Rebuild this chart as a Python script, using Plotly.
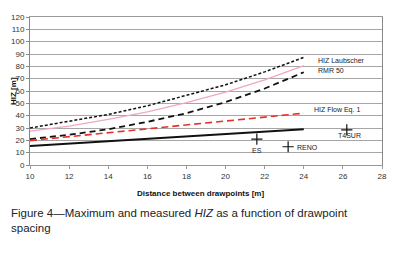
import plotly.graph_objects as go

spacing = [10, 12, 14, 16, 18, 20, 22, 24]
hiz_laubscher = [30, 35.5, 41, 48, 56.5, 65, 75.5, 87.3]
rmr50 = [27.5, 31.5, 37, 43, 50.5, 59, 69, 80.5]
rmr_lower = [21, 24.5, 29, 35, 42, 51, 62, 75.2]
hiz_flow = [19.8, 23, 26.3, 29.5, 32.8, 36, 39, 42]
hiz_measured_line = [15.5, 17.5, 19.5, 21.3, 23.2, 25.1, 27, 29]

meas_names = ["ES", "RENO", "T4SUR"]
meas_x = [21.6, 23.2, 26.2]
meas_y = [21, 14.8, 28.4]

x_ticks = [10, 12, 14, 16, 18, 20, 22, 24, 26, 28]
y_ticks = list(range(0, 121, 10))

fig = go.Figure()
fig.add_trace(go.Scatter(x=spacing, y=hiz_laubscher, mode="lines",
                         line=dict(color="#111111", width=1.5, dash="3px,2px")))
fig.add_trace(go.Scatter(x=spacing, y=rmr50, mode="lines",
                         line=dict(color="#f2a7c3", width=1.3)))
fig.add_trace(go.Scatter(x=spacing, y=rmr_lower, mode="lines",
                         line=dict(color="#111111", width=1.8, dash="6px,4px")))
fig.add_trace(go.Scatter(x=spacing, y=hiz_flow, mode="lines",
                         line=dict(color="#e8302a", width=1.6, dash="7px,4px")))
fig.add_trace(go.Scatter(x=spacing, y=hiz_measured_line, mode="lines",
                         line=dict(color="#111111", width=2)))
fig.add_trace(go.Scatter(x=meas_x, y=meas_y, mode="markers",
                         marker=dict(symbol="cross-thin", size=8,
                                     line=dict(color="#111111", width=1.2))))

FAM = "Liberation Sans, Arial, sans-serif"
font_small = dict(family=FAM, size=7, color="#222222")
ann = [
    dict(x=24.6, y=84.6, text="HIZ Laubscher", xanchor="left", yanchor="middle", showarrow=False, font=font_small),
    dict(x=24.6, y=77, text="RMR 50", xanchor="left", yanchor="middle", showarrow=False, font=font_small),
    dict(x=24.42, y=44.6, text="HIZ Flow Eq. 1", xanchor="left", yanchor="middle", showarrow=False, font=font_small),
    dict(x=meas_x[0], y=meas_y[0] - 9.5, text=meas_names[0], xanchor="center", yanchor="middle", showarrow=False, font=font_small),
    dict(x=meas_x[1] + 0.35, y=meas_y[1] - 0.3, text=meas_names[1], xanchor="left", yanchor="middle", showarrow=False, font=font_small),
    dict(x=meas_x[2] + 0.15, y=meas_y[2] - 4.5, text=meas_names[2], xanchor="center", yanchor="middle", showarrow=False, font=font_small),
    dict(x=0.5, y=0, xref="paper", yref="paper", yshift=-28, xshift=-6,
         text="<b>Distance between drawpoints [m]</b>",
         showarrow=False, xanchor="center", yanchor="middle",
         font=dict(family=FAM, size=8, color="#111111")),
    dict(x=0, y=0.5, xref="paper", yref="paper", xshift=-17,
         text="<b>HIZ [m]</b>", textangle=-90,
         showarrow=False, xanchor="center", yanchor="middle",
         font=dict(family=FAM, size=8, color="#111111")),
    dict(x=0, y=0, xref="paper", yref="paper", xshift=-21, yshift=-40,
         text="Figure 4\u2014Maximum and measured <i>HIZ</i> as a function of drawpoint<br>spacing",
         showarrow=False, xanchor="left", yanchor="top", align="left",
         font=dict(family=FAM, size=11.5, color="#222222")),
]

fig.update_layout(
    width=379, height=237,
    margin=dict(l=22, r=5, t=9, b=80),
    paper_bgcolor="white", plot_bgcolor="white",
    showlegend=False,
    annotations=ann,
    font=dict(family=FAM, size=8, color="#333333"),
)
fig.update_xaxes(range=[10, 28], tickvals=x_ticks, showgrid=False, zeroline=False,
                 automargin=False,
                 showline=True, linecolor="#999999", linewidth=1, mirror=True,
                 ticks="outside", ticklen=3, tickcolor="#999999",
                 tickfont=dict(size=8, color="#333333"))
fig.update_yaxes(range=[0, 120], tickvals=y_ticks, showgrid=True, gridcolor="#a6a6a6", gridwidth=1,
                 automargin=False,
                 zeroline=False, showline=True, linecolor="#888888", linewidth=1, mirror=True,
                 ticks="outside", ticklen=3, tickcolor="#888888",
                 tickfont=dict(size=8, color="#333333"))

fig.write_html("out.html")
